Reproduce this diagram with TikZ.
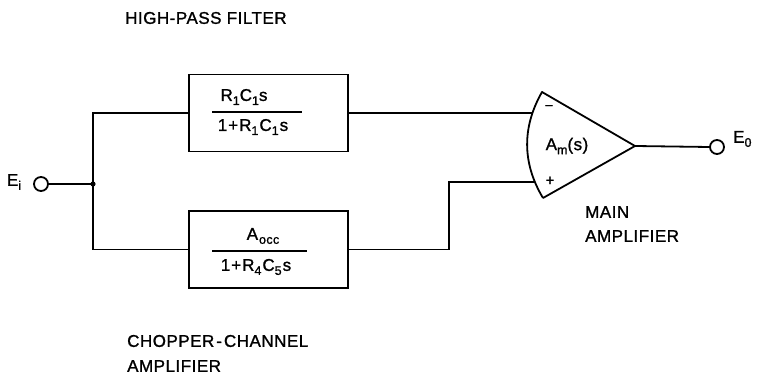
\documentclass[tikz,border=0pt]{standalone}
\usepackage{fontspec}
\setmainfont{Liberation Sans}[LetterSpace=3,FakeBold=1.2]
\newcommand{\lsub}[1]{\raisebox{-0.45ex}{\fontsize{12.5}{12.5}\selectfont #1}}
\begin{document}
\begin{tikzpicture}[x=1pt,y=-1pt,
  wire/.style={line width=1.8pt},
  blockbox/.style={draw,line width=1.8pt,minimum width=159pt,minimum height=77pt,inner sep=0pt},
  term/.style={circle,draw,line width=1.8pt,minimum size=14pt,inner sep=0pt,fill=white},
  lbl/.style={font=\fontsize{17}{20}\selectfont,inner sep=0pt},
  frac/.style={font=\fontsize{17}{20}\selectfont,inner sep=0pt}]
\useasboundingbox (0,0) rectangle (757,379);
% blocks
\node[blockbox] (hpf) at (268.5,113) {};
\node[blockbox] (ccf) at (268.5,249.5) {};
% fraction texts
\node[frac] (n1) at (244,97) {R\lsub{1}C\lsub{1}s};
\node[frac] (d1) at (253,127) {1\kern1pt+\kern1ptR\lsub{1}\kern1ptC\lsub{1}\kern1pt s};
\draw[line width=1.4pt] (212,112) -- (302,112);
\node[frac] (n2) at (263,236) {A\lsub{\kern1pt occ}};
\node[frac] (d2) at (256,267) {1\kern1pt+\kern1ptR\lsub{4}\kern1ptC\lsub{5}\kern1pt s};
\draw[line width=1.4pt] (212,251) -- (307,251);
% amplifier
\coordinate (atop) at (542,92);
\coordinate (aout) at (635,146);
\coordinate (abot) at (543,198);
\coordinate (inm) at (533,113);
\coordinate (inp) at (534,182);
\draw[wire,line join=round] (abot) -- (aout) -- (atop) .. controls (522,127) and (522,163) .. (abot);
\node[lbl] (am) at (567,146) {A\lsub{m}(s)};
\node[font=\fontsize{13}{13}\selectfont,inner sep=0pt] (mi) at (549,107) {\textendash};
\node[font=\fontsize{15}{15}\selectfont,inner sep=0pt] (pl) at (550,181) {+};
% terminals
\node[term] (ei) at (41,184) {};
\node[term] (eo) at (717,147) {};
\node[lbl] (eil) at (14,182) {E\lsub{i}};
\node[lbl,anchor=west] (eol) at (733,139) {E\lsub{0}};
% junction
\coordinate (j) at (93,184);
\fill (j) circle (2.6pt);
% wires
\draw[wire] (ei.east) -- (j);
\draw[wire] (j) |- (hpf.west);
\draw[wire] (j) |- (ccf.west);
\draw[wire] (hpf.east) -- (inm);
\draw[wire] (ccf.east) -| (449,182) -- (inp);
\draw[wire] (aout) -- (eo.west);
% labels
\node[lbl,anchor=west] (t1) at (125,18) {HIGH-PASS FILTER};
\node[lbl,anchor=west] (t2) at (127,341) {CHOPPER\kern2pt-\kern2pt CHANNEL};
\node[lbl,anchor=west] (t3) at (127,366) {AMPLIFIER};
\node[lbl,anchor=west] (t4) at (585,212) {MAIN};
\node[lbl,anchor=west] (t5) at (585,236) {AMPLIFIER};
\end{tikzpicture}
\end{document}
